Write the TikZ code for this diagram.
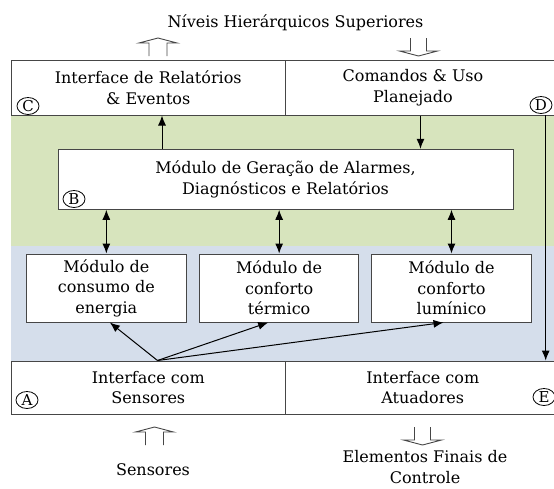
\documentclass[tikz,border=0pt]{standalone}
\usepackage{fontspec}
\setmainfont{DejaVu Serif}
\usetikzlibrary{arrows.meta, shapes.geometric}

\definecolor{bandgreen}{RGB}{215,228,189}
\definecolor{bandblue}{RGB}{213,222,235}
\definecolor{boxline}{RGB}{70,70,70}

\tikzset{
  block/.style = {draw = boxline, line width = 1pt, fill = white, inner sep = 0pt,
    align = center, font = \fontsize{16}{20.5}\selectfont},
  caption/.style = {align = center, inner sep = 0pt, font = \fontsize{16}{20.5}\selectfont},
  circletag/.style = {draw, ellipse, line width = 0.8pt, minimum width = 22pt,
    minimum height = 17pt, inner sep = 0pt, font = \fontsize{15}{15}\selectfont},
  link/.style = {line width = 1pt, -{Latex[length = 10pt, width = 8pt]}},
  twoway/.style = {line width = 1pt,
    {Latex[length = 10pt, width = 8pt]}-{Latex[length = 10pt, width = 8pt]}},
  blockarrow/.style = {draw = boxline, line width = 0.9pt},
  hollowup/.pic = {
    \draw[blockarrow] (-9, 18) -- (-9, 5) -- (-19, 5) -- (0, 0) -- (19, 5) -- (9, 5) -- (9, 18);
  },
  hollowdown/.pic = {
    \draw[blockarrow] (-8, 0) -- (-8, 13) -- (-19, 13) -- (0, 18) -- (19, 13) -- (8, 13) -- (8, 0);
  },
}

\begin{document}
\begin{tikzpicture}[x = 1pt, y = -1pt]
  \useasboundingbox (0, 0) rectangle (554, 488);
  \clip (0, 0) rectangle (554, 488);

  % faixas de fundo
  \fill[bandgreen] (11, 115) rectangle (562, 246);
  \fill[bandblue] (11, 246) rectangle (562, 361);

  % interfaces
  \node[block, minimum width = 274.5pt, minimum height = 54.3pt] (relbox) at (148.25, 87.85)
  {Interface de Relatórios\\\& Eventos};
  \node[block, minimum width = 274.5pt, minimum height = 54.3pt] (cmdbox) at (422.75, 87.85) {};
  \node[caption] (cmdtext) at ([xshift = -9.75pt]cmdbox.center) {Comandos \& Uso\\Planejado};
  \node[block, minimum width = 274.5pt, minimum height = 53.3pt] (sensbox) at (148.25, 387.65)
  {Interface com\\Sensores};
  \node[block, minimum width = 274.5pt, minimum height = 53.3pt] (atuabox) at (422.75, 387.65)
  {Interface com\\Atuadores};

  % modulos
  \node[block, minimum width = 455pt, minimum height = 60pt] (alarm) at (285.5, 179.3)
  {Módulo de Geração de Alarmes,\\Diagnósticos e Relatórios};
  \node[block, minimum width = 159.3pt, minimum height = 68pt] (energia) at (106.35, 288)
  {Módulo de\\consumo de\\energia};
  \node[block, minimum width = 159.3pt, minimum height = 68pt] (termico) at (279.15, 288)
  {Módulo de\\conforto\\térmico};
  \node[block, minimum width = 159.3pt, minimum height = 68pt] (luminico) at (451.5, 288)
  {Módulo de\\conforto\\lumínico};

  % letras
  \node[circletag] (tagC) at (28, 106) {C};
  \node[circletag] (tagD) at (541, 105) {D};
  \node[circletag] (tagB) at (74, 199) {B};
  \node[circletag] (tagA) at (27, 400) {A};
  \node[circletag] (tagE) at (544, 397) {E};

  % setas
  \coordinate (relin) at ([xshift = 13.75pt]relbox.south);
  \coordinate (cmdout) at ([xshift = -2.25pt]cmdbox.south);
  \draw[link] (relin |- alarm.north) -- (relin);
  \draw[link] (cmdout) -- (cmdout |- alarm.north);
  \foreach \m in {energia, termico, luminico}
    \draw[twoway] (alarm.south -| \m.north) -- (\m.north);

  \coordinate (dline) at (545.7, 115);
  \draw[link] (dline) -- (dline |- atuabox.north);

  \coordinate (sensout) at ([xshift = 9.25pt]sensbox.north);
  \draw[link] (sensout) -- ([xshift = 3.5pt]energia.south);
  \draw[link] (sensout) -- ([xshift = -11pt]termico.south);
  \draw[link] (sensout) -- ([xshift = -8pt]luminico.south);

  % niveis externos
  \node[caption, anchor = base] (title) at (295.5, 27) {Níveis Hierárquicos Superiores};
  \pic at (158, 38) {hollowup};
  \pic at (418.5, 38) {hollowdown};
  \pic at (154.5, 427) {hollowup};
  \pic at (422.5, 427) {hollowdown};
  \node[caption, anchor = base] (sensores) at (153, 475) {Sensores};
  \node[caption] (finais) at (425, 467) {Elementos Finais de\\Controle};
\end{tikzpicture}
\end{document}
